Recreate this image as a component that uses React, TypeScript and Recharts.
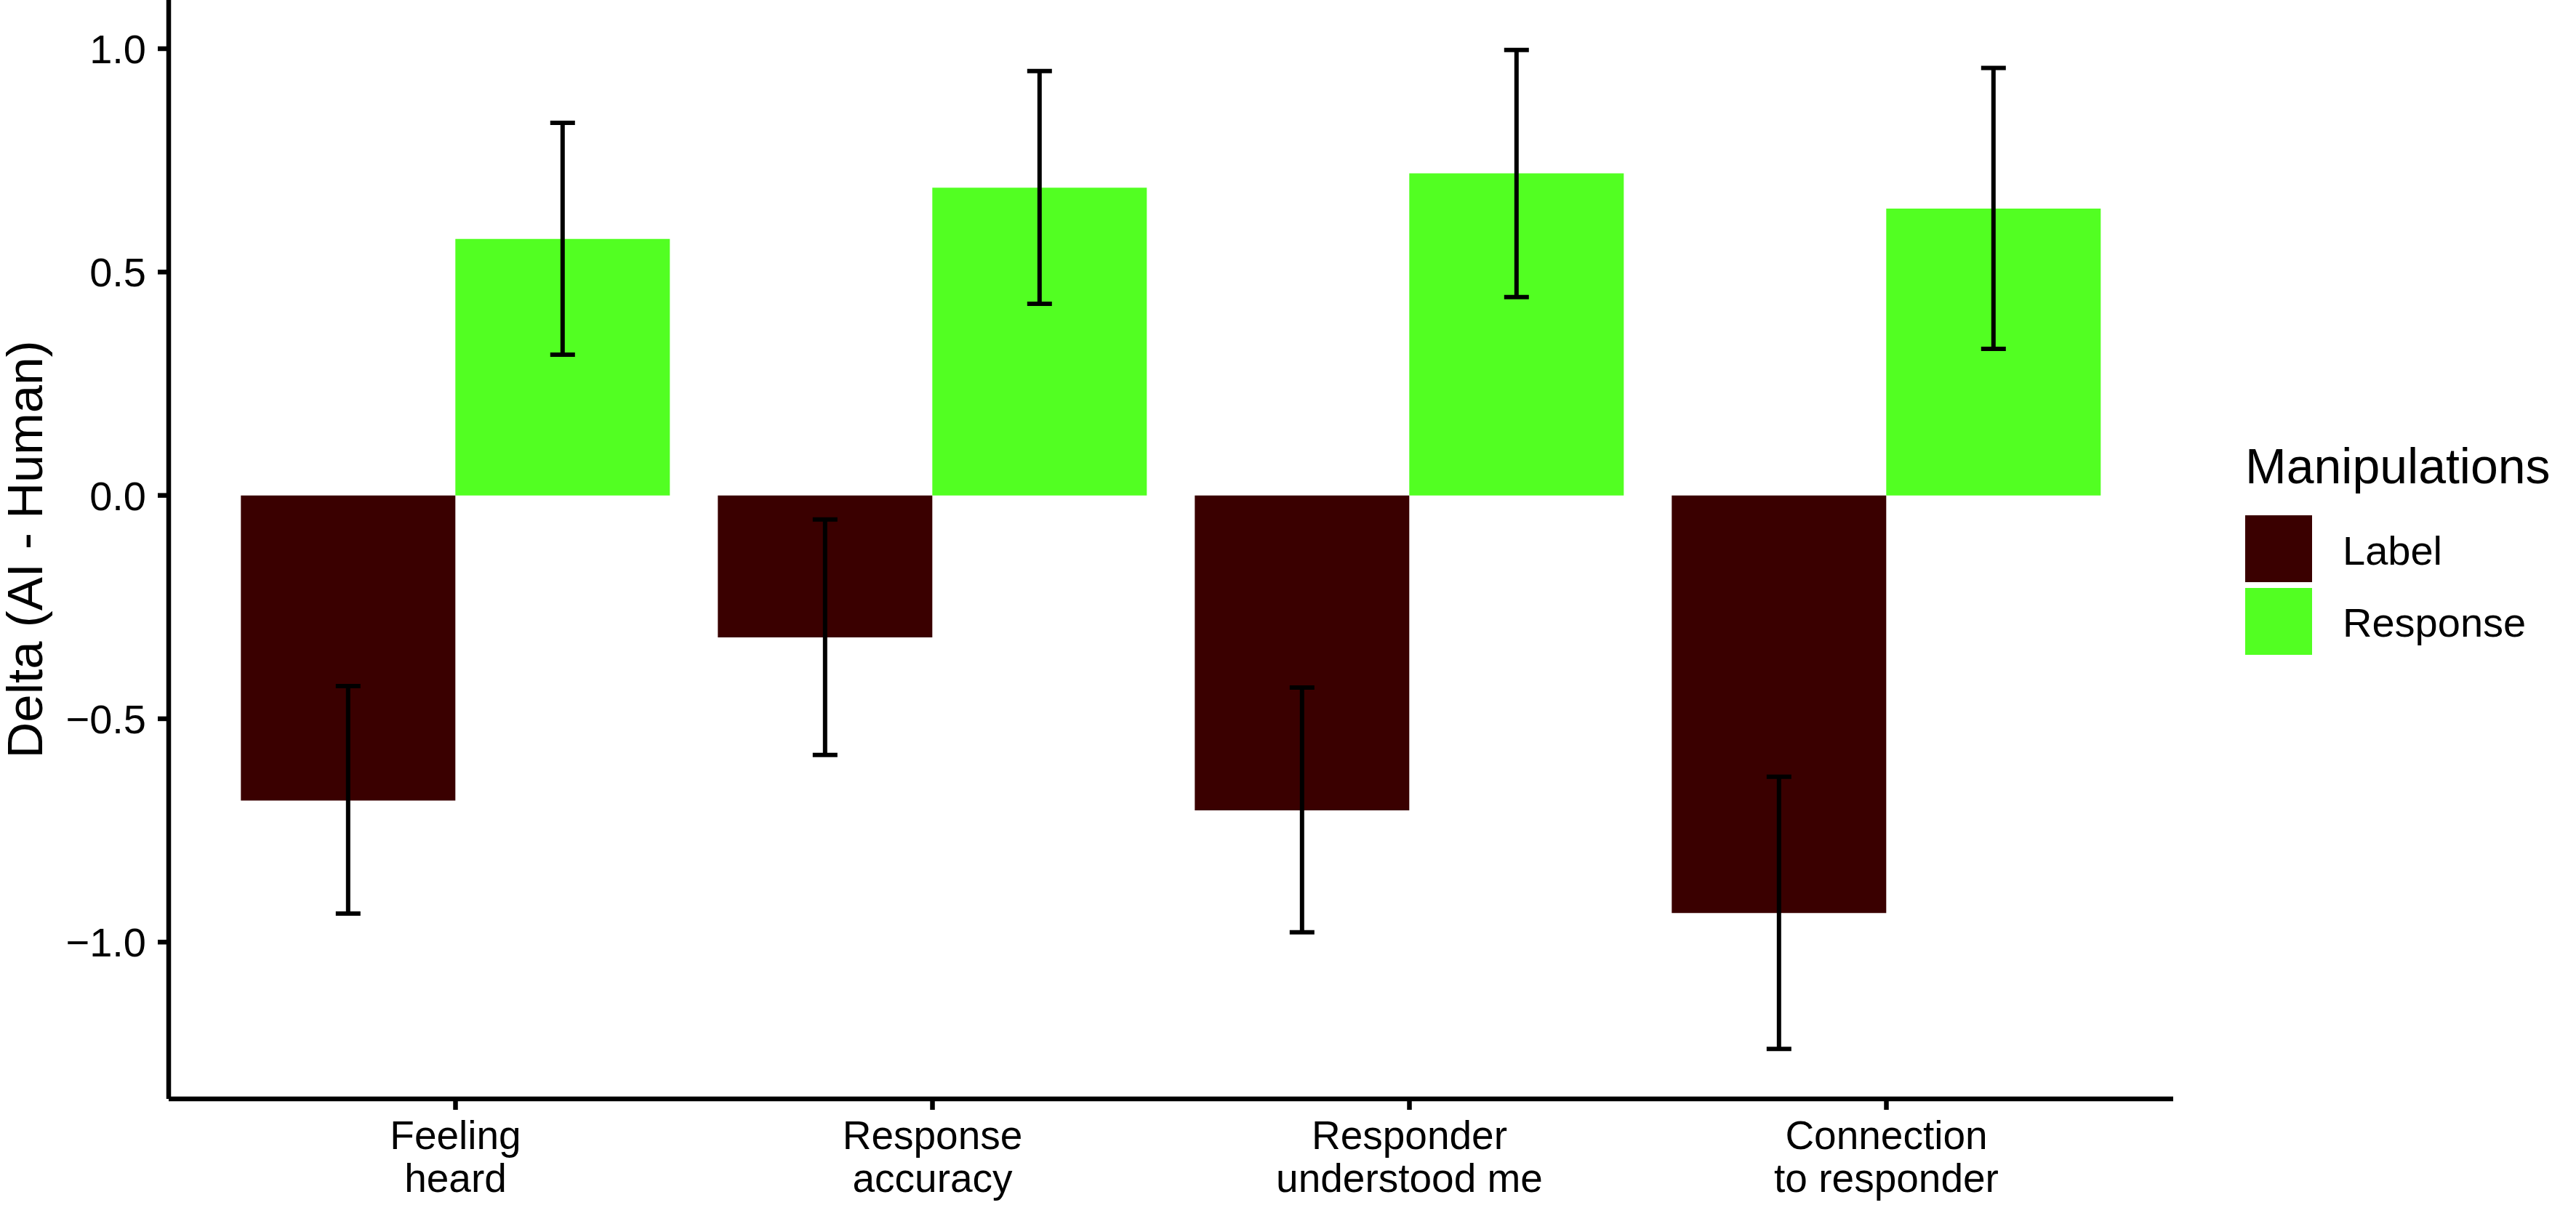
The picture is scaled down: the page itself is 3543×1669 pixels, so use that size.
import { FC } from 'react';
import { BarChart, Bar, XAxis, YAxis, ErrorBar, Legend } from 'recharts';

// values: delta (AI - Human) with 95% CI bounds
const categories = ['Feeling\nheard', 'Response\naccuracy', 'Responder\nunderstood me', 'Connection\nto responder'];

const labelDelta = [-0.683, -0.318, -0.705, -0.935];
const labelLower = [-0.936, -0.581, -0.978, -1.239];
const labelUpper = [-0.427, -0.054, -0.43, -0.63];

const responseDelta = [0.574, 0.689, 0.721, 0.642];
const responseLower = [0.315, 0.429, 0.444, 0.328];
const responseUpper = [0.834, 0.95, 0.997, 0.957];

const yTicks = [-1, -0.5, 0, 0.5, 1];

const seriesNames = ['Label', 'Response'];
const seriesColors = ['#3A0000', '#52FF22'];

const FONT = '"Liberation Sans", Arial, Helvetica, sans-serif';

// ErrorBar wants [below, above] distances from the bar value
const chartData = categories.map((name, i) => ({
  name,
  label: labelDelta[i],
  labelErr: [labelDelta[i] - labelLower[i], labelUpper[i] - labelDelta[i]],
  response: responseDelta[i],
  responseErr: [responseDelta[i] - responseLower[i], responseUpper[i] - responseDelta[i]],
}));

const formatTick = (v: number) => (v < 0 ? '\u2212' : '') + Math.abs(v).toFixed(1);

const XTick: FC<any> = ({ x, y, payload }) => {
  const lines = String(payload.value).split('\n');
  return (
    <text x={x} y={y} textAnchor="middle" fontSize={55} fill="#000" fontFamily={FONT}>
      {lines.map((line, i) => (
        <tspan key={i} x={x} dy={i === 0 ? 54 : 59}>
          {line}
        </tspan>
      ))}
    </text>
  );
};

const YTitle: FC<any> = ({ viewBox }) => {
  const cx = viewBox.x + 58;
  const cy = viewBox.y + viewBox.height / 2;
  return (
    <text
      x={cx}
      y={cy}
      transform={`rotate(-90 ${cx} ${cy})`}
      textAnchor="middle"
      fontSize={69}
      fill="#000"
      fontFamily={FONT}
    >
      Delta (AI - Human)
    </text>
  );
};

const LegendBox = () => (
  <svg width={450} height={320} style={{ display: 'block', overflow: 'visible' }}>
    <text x={0} y={65} fontSize={68} fill="#000" fontFamily={FONT}>
      Manipulations
    </text>
    {seriesNames.map((name, i) => (
      <g key={name}>
        <rect x={0} y={109 + i * 100} width={92} height={92} fill={seriesColors[i]} />
        <text x={134} y={177 + i * 99} fontSize={56} fill="#000" fontFamily={FONT}>
          {name}
        </text>
      </g>
    ))}
  </svg>
);

const App = () => {
  return (
    <div style={{ position: 'absolute', left: 0, top: 0, background: '#fff' }}>
      <BarChart
        width={3543}
        height={1669}
        data={chartData}
        margin={{ top: 0, right: 554, left: 0, bottom: 0 }}
        barCategoryGap="5%"
        barGap={0}
        style={{ fontFamily: FONT }}
      >
        <XAxis
          dataKey="name"
          height={157}
          padding={{ left: 66.5, right: 66.5 }}
          axisLine={{ stroke: '#000', strokeWidth: 6.5 }}
          tickLine={{ stroke: '#000', strokeWidth: 6.5 }}
          tickSize={15}
          tickMargin={0}
          tick={<XTick />}
          interval={0}
        />
        <YAxis
          width={232}
          domain={[-1.351, 1.109]}
          allowDataOverflow
          ticks={yTicks}
          tickFormatter={formatTick}
          axisLine={{ stroke: '#000', strokeWidth: 6.5 }}
          tickLine={{ stroke: '#000', strokeWidth: 6.5 }}
          tickSize={15}
          tickMargin={16}
          tick={{ fill: '#000', fontSize: 56, fontFamily: FONT }}
          label={<YTitle />}
        />
        <Legend
          layout="vertical"
          align="center"
          verticalAlign="middle"
          content={() => <LegendBox />}
          wrapperStyle={{ left: 3088, top: 600, width: 450, height: 320 }}
        />
        <Bar dataKey="label" name="Label" fill={seriesColors[0]} isAnimationActive={false}>
          <ErrorBar dataKey="labelErr" width={17} strokeWidth={6} stroke="#000" direction="y" isAnimationActive={false} />
        </Bar>
        <Bar dataKey="response" name="Response" fill={seriesColors[1]} isAnimationActive={false}>
          <ErrorBar dataKey="responseErr" width={17} strokeWidth={6} stroke="#000" direction="y" isAnimationActive={false} />
        </Bar>
      </BarChart>
    </div>
  );
};

export default App;
